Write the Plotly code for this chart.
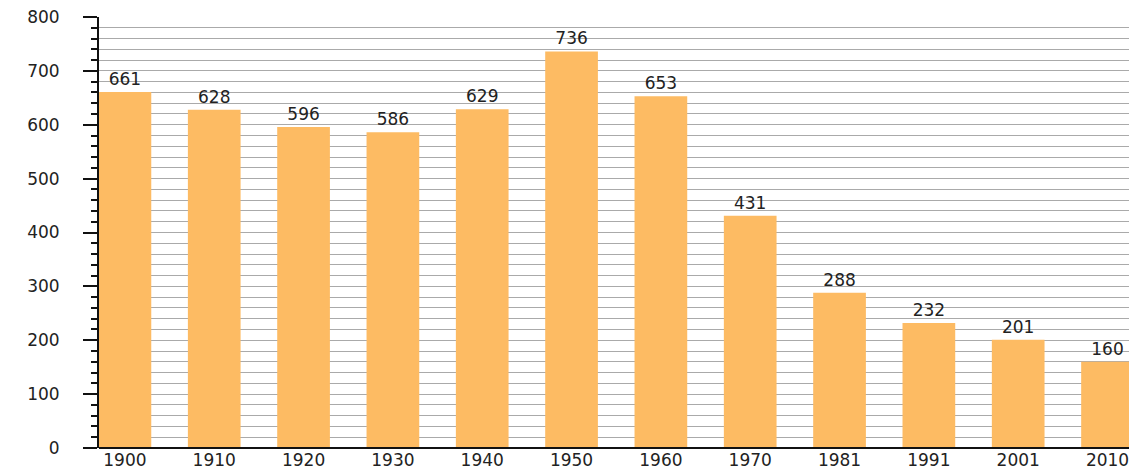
import plotly.graph_objects as go

years = ["1900", "1910", "1920", "1930", "1940", "1950", "1960", "1970", "1981", "1991", "2001", "2010"]
population = [661, 628, 596, 586, 629, 736, 653, 431, 288, 232, 201, 160]

FONT = "DejaVu Sans, Liberation Sans, Arial, sans-serif"

fig = go.Figure()
fig.add_trace(go.Bar(
    x=list(range(len(years))),
    y=population,
    marker=dict(color="#FDBB63", line=dict(width=0)),
    text=[str(v) for v in population],
    textposition="outside",
    textfont=dict(family=FONT, size=17, color="#222222"),
    cliponaxis=False,
))

# page body has an 8px offset; compensate so the figure fills the window
fig.update_layout(
    width=1129, height=463,
    margin=dict(l=91, r=0, t=9, b=23),
    paper_bgcolor="white", plot_bgcolor="white",
    bargap=0.41,
    showlegend=False,
    font=dict(family=FONT, size=17, color="#222222"),
)
fig.update_xaxes(
    tickmode="array", tickvals=list(range(len(years))), ticktext=years,
    range=[-0.29, 11.33],
    showgrid=False, zeroline=False,
    showline=False, ticks="", ticklabelstandoff=0,
    tickfont=dict(family=FONT, size=17, color="#222222"),
)
fig.update_yaxes(
    range=[0, 800], dtick=100, tick0=0,
    showgrid=True, gridcolor="#AAAAAA", gridwidth=1,
    zeroline=True, zerolinecolor="#111111", zerolinewidth=2,
    showline=True, linecolor="#111111", linewidth=2,
    ticks="outside", ticklen=14, tickcolor="#111111", tickwidth=2,
    ticklabelstandoff=20, ticklabeloverflow="allow",
    tickfont=dict(family=FONT, size=17, color="#222222"),
    minor=dict(dtick=20, ticks="outside", ticklen=6, tickcolor="#111111", tickwidth=1.5,
               showgrid=True, gridcolor="#AAAAAA", gridwidth=1),
)
fig.add_shape(type="line", xref="paper", yref="y", x0=-14/1038, x1=1, y0=0, y1=0,
              line=dict(color="#111111", width=2))

fig.write_html("out.html")
